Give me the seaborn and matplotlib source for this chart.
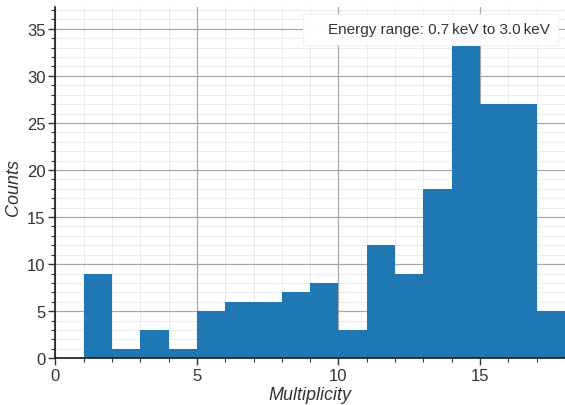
import numpy as np
import pandas as pd
import matplotlib
matplotlib.use("Agg")
import matplotlib.pyplot as plt
from matplotlib.ticker import MultipleLocator
import seaborn as sns

# data
multiplicity = list(range(1, 18))
counts = [9, 1, 3, 1, 5, 6, 6, 7, 8, 3, 12, 9, 18, 35, 27, 27, 5]
edges = list(range(1, 19))
legend_text = "Energy range: 0.7\u2009keV to 3.0\u2009keV"

df = pd.DataFrame({"multiplicity": multiplicity, "counts": counts})

sns.set_theme(style="ticks")
plt.rcParams["font.family"] = ["Liberation Sans", "DejaVu Sans"]

fig, ax = plt.subplots(figsize=(5.65, 4.06), dpi=100)
sns.histplot(data=df, x="multiplicity", weights="counts", bins=edges,
             color="#1f77b4", alpha=1, linewidth=0, ax=ax, label=legend_text)

ax.set_xlim(0, 18)
ax.set_ylim(0, 37.3)
ax.xaxis.set_major_locator(MultipleLocator(5))
ax.xaxis.set_minor_locator(MultipleLocator(1))
ax.yaxis.set_major_locator(MultipleLocator(5))
ax.yaxis.set_minor_locator(MultipleLocator(1))

# minor grid drawn by hand underneath, major grid on top of it
for v in range(0, 19):
    ax.axvline(v, color="#ebebeb", linewidth=0.7, zorder=0.1)
for v in range(0, 38):
    ax.axhline(v, color="#ebebeb", linewidth=0.7, zorder=0.1)
ax.grid(which="major", color="#a8a8a8", linewidth=0.9)
ax.set_axisbelow(True)

ax.tick_params(which="major", length=5, width=1, colors="#333333", labelsize=12)
ax.tick_params(which="minor", length=3, width=0.8, colors="#333333")
ax.tick_params(axis="both", pad=2)
for s in ["top", "right"]:
    ax.spines[s].set_visible(False)
for s in ["left", "bottom"]:
    ax.spines[s].set_color("#222222")

ax.set_xlabel("Multiplicity", fontsize=13, style="italic", color="#333333", labelpad=2)
ax.set_ylabel("Counts", fontsize=13, style="italic", color="#333333")
ax.yaxis.set_label_coords(-0.065, 0.49)

leg = ax.legend(loc="upper right", handlelength=0.8, handletextpad=0.3,
                fontsize=11, frameon=True, framealpha=0.97, borderpad=0.55,
                borderaxespad=0.45, fancybox=False)
leg.get_frame().set_edgecolor("#f0f0f0")
leg.get_frame().set_linewidth(0.8)
for h in leg.legend_handles:
    h.set_visible(False)
for t in leg.get_texts():
    t.set_color("#333333")

fig.subplots_adjust(left=0.098, right=1.0, bottom=0.115, top=0.98)
fig.savefig("out.png", dpi=100)
